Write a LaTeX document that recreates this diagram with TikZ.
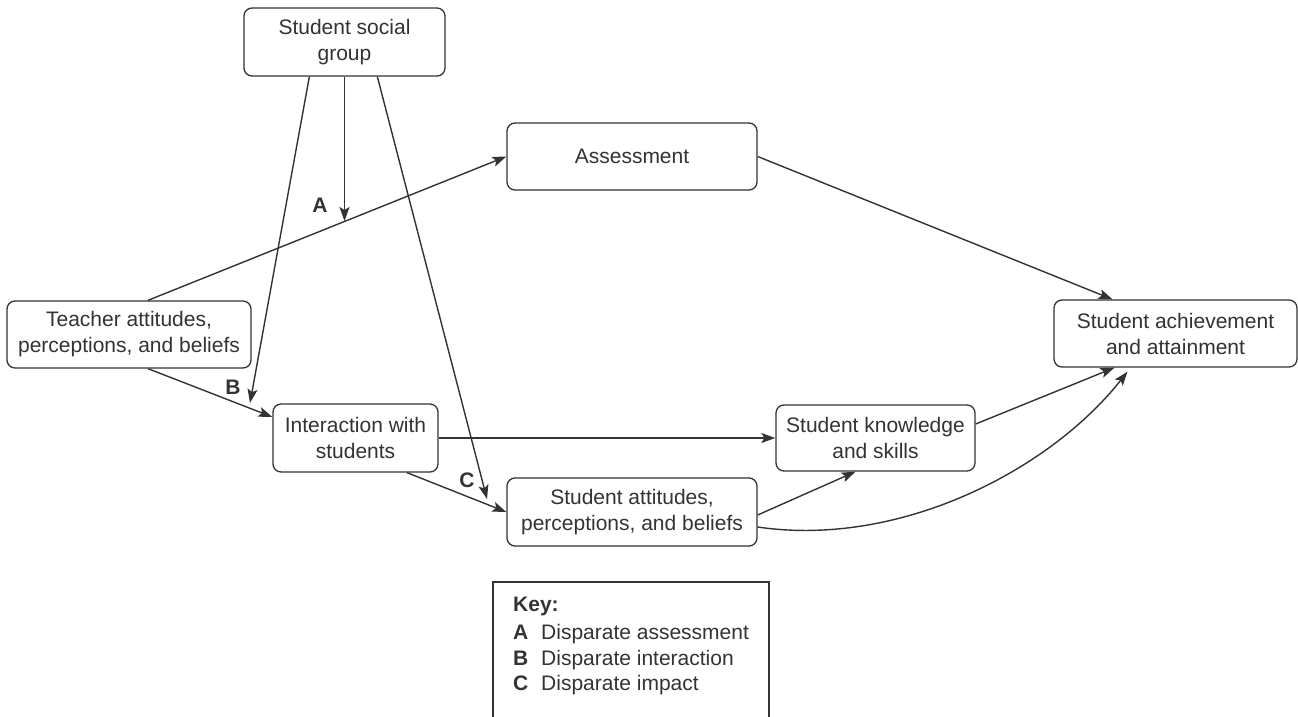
\documentclass[tikz,border=0pt]{standalone}
\usepackage{fontspec}
\setmainfont{Liberation Sans}
\usetikzlibrary{arrows.meta,calc}
\definecolor{ink}{HTML}{333333}
\begin{document}
\begin{tikzpicture}[x=1pt,y=-1pt,
  every node/.style={font=\fontsize{21}{26}\selectfont, text=ink},
  box/.style={draw=ink, line width=1.3pt, rounded corners=8pt, fill=white, align=center, inner sep=0pt},
  conn/.style={draw=ink, line width=1.4pt, -{Stealth[length=14pt,width=10pt,inset=3pt]}},
  lab/.style={font=\fontsize{21}{26}\selectfont\bfseries},
  keytxt/.style={anchor=base west, inner sep=0pt}]
\useasboundingbox (0,0) rectangle (1298,717);

\node[box, minimum width=201pt, minimum height=68pt] (social) at (344.5,42) {Student social\\group};
\node[box, minimum width=250pt, minimum height=67pt] (assess) at (632,156.5) {Assessment};
\node[box, minimum width=244pt, minimum height=67pt] (teacher) at (129,334.5) {Teacher attitudes,\\perceptions, and beliefs};
\node[box, minimum width=165pt, minimum height=68pt] (inter) at (355.5,438) {Interaction with\\students};
\node[box, minimum width=250pt, minimum height=68pt] (att) at (632,512) {Student attitudes,\\perceptions, and beliefs};
\node[box, minimum width=199pt, minimum height=66pt] (know) at (875.5,438) {Student knowledge\\and skills};
\node[box, minimum width=243pt, minimum height=67pt] (ach) at (1175.5,333.5) {Student achievement\\and attainment};

\coordinate (cA) at (344.5,221);
\coordinate (cB) at (250,403);
\coordinate (cC) at (487,499);

\draw[conn] ($(social.south west)+(66,0)$) -- (cB);
\draw[conn] (social.south) -- (cA);
\draw[conn] ($(social.south west)+(134,0)$) -- (cC);

\draw[conn] ($(teacher.north)+(19,0)$) -- (assess.west);
\draw[conn] ($(teacher.south)+(19,0)$) -- ($(inter.west)+(0,-21)$);
\draw[conn] ($(inter.south)+(51.5,0)$) -- (att.west);
\draw[conn] (inter.east) -- (know.west);
\draw[conn] (assess.east) -- ($(ach.north)+(-63,0)$);
\draw[conn] ($(know.east)+(0,-14)$) -- ($(ach.south)+(-61,0)$);
\draw[conn] ($(att.east)+(0,3)$) -- ($(know.south)+(-20,0)$);
\draw[conn] ($(att.east)+(0,15)$) .. controls (900,548) and (1050,470) .. ($(ach.south)+(-48,4)$);

\node[lab] (la) at (320,205) {A};
\node[lab] (lb) at (233,387) {B};
\node[lab] (lc) at (467,480) {C};

\draw[ink, line width=1.3pt] (493,717) -- (493,582) -- (769,582) -- (769,717);
\node[keytxt, font=\fontsize{21}{26}\selectfont\bfseries] (key) at (513,611.5) {Key:};
\node[keytxt, font=\fontsize{21}{26}\selectfont\bfseries] (ka) at (513,639.5) {A};
\node[keytxt] (kat) at (541,639.5) {Disparate assessment};
\node[keytxt, font=\fontsize{21}{26}\selectfont\bfseries] (kb) at (513,665.5) {B};
\node[keytxt] (kbt) at (541,665.5) {Disparate interaction};
\node[keytxt, font=\fontsize{21}{26}\selectfont\bfseries] (kc) at (513,690.5) {C};
\node[keytxt] (kct) at (541,690.5) {Disparate impact};
\end{tikzpicture}
\end{document}
